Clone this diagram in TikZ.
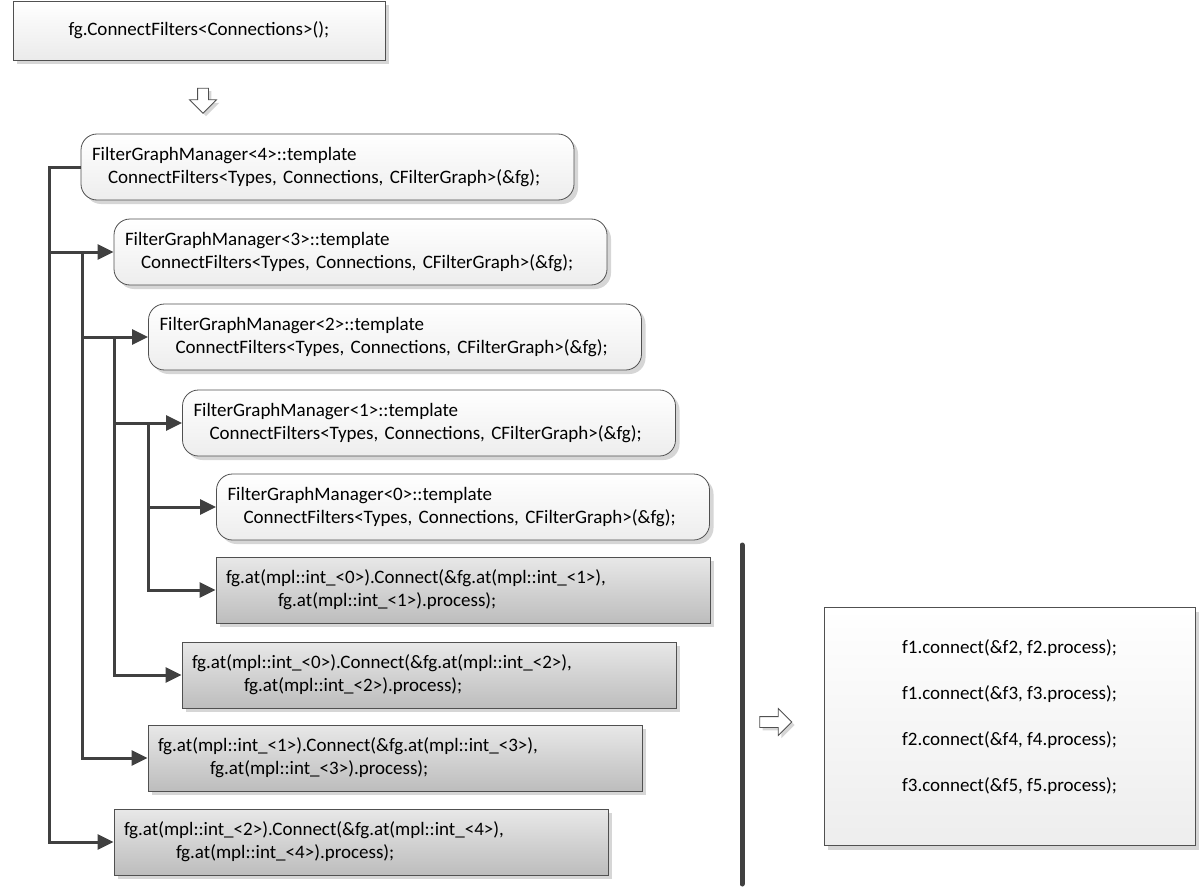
\documentclass[tikz,border=0pt]{standalone}
\usepackage{fontspec}
\setmainfont{Carlito}
\usetikzlibrary{arrows.meta,shapes.arrows,shadows}
\definecolor{linegray}{HTML}{404040}
\definecolor{framegray}{HTML}{505050}

\tikzset{
  shade box/.style={draw=framegray,line width=0.8pt,
    drop shadow={shadow xshift=4pt,shadow yshift=-4pt,fill=black!16,opacity=1}},
  callbox/.style={shade box,top color=white,bottom color=black!8,
    minimum width=372pt,minimum height=59pt},
  mgrbox/.style={shade box,rounded corners=16pt,top color=white,bottom color=black!7,
    text width=471pt,inner xsep=11pt,minimum height=66pt,align=left},
  conbox/.style={shade box,top color=black!9,bottom color=black!26,
    text width=474pt,inner xsep=10pt,minimum height=66pt,align=left},
  flatbox/.style={shade box,top color=white,bottom color=black!7,
    minimum width=371pt,minimum height=238pt,align=center},
  hollow/.style={shape=single arrow,draw=framegray,fill=white,line width=0.8pt,
    inner sep=5pt,minimum width=26pt,single arrow head extend=8pt,
    drop shadow={shadow xshift=3pt,shadow yshift=-3pt,fill=black!16,opacity=1}},
  link/.style={draw=linegray,line width=3pt,-{Triangle[length=16pt,width=15pt]}}
}

\begin{document}
\begin{tikzpicture}[x=1pt,y=-1pt,every node/.style={font=\fontsize{19}{23}\selectfont}]
\useasboundingbox (0,0) rectangle (1200,891);

\node[callbox] (call) at (199,30.5) {fg.ConnectFilters<Connections>();};
\node[hollow,minimum height=25pt,shape border rotate=270] (down) at (203,98) {};

\foreach \i/\x/\y in {4/327.5/167,3/360.5/252,2/395/337,1/429/423,0/463/507}
  \node[mgrbox] (m\i) at (\x,\y)
    {FilterGraphManager<\i>::template\\\hspace*{16pt}ConnectFilters<Types, Connections, CFilterGraph>(\&fg);};

\node[conbox] (c01) at (463,590)
  {fg.at(mpl::int\_<0>).Connect(\&fg.at(mpl::int\_<1>),\\\hspace*{52pt}fg.at(mpl::int\_<1>).process);};
\node[conbox] (c02) at (429,675)
  {fg.at(mpl::int\_<0>).Connect(\&fg.at(mpl::int\_<2>),\\\hspace*{52pt}fg.at(mpl::int\_<2>).process);};
\node[conbox] (c13) at (395,758)
  {fg.at(mpl::int\_<1>).Connect(\&fg.at(mpl::int\_<3>),\\\hspace*{52pt}fg.at(mpl::int\_<3>).process);};
\node[conbox] (c24) at (361,842)
  {fg.at(mpl::int\_<2>).Connect(\&fg.at(mpl::int\_<4>),\\\hspace*{52pt}fg.at(mpl::int\_<4>).process);};

\coordinate (bus4) at (49,0);
\coordinate (bus3) at (82,0);
\coordinate (bus2) at (114,0);
\coordinate (bus1) at (148,0);

\draw[link] (m4.west) -- (m4.west -| bus4) |- (c24.west);
\draw[link] (m3.west -| bus4) -- (m3.west);
\draw[link] (m3.west -| bus3) |- (c13.west);
\draw[link] (m2.west -| bus3) -- (m2.west);
\draw[link] (m2.west -| bus2) |- (c02.west);
\draw[link] (m1.west -| bus2) -- (m1.west);
\draw[link] (m1.west -| bus1) |- (c01.west);
\draw[link] (m0.west -| bus1) -- (m0.west);

\draw[draw=linegray,line width=5pt,line cap=round] (742,545) -- (742,884);
\node[hollow,minimum height=32pt] (right) at (773,722) {};

\node[flatbox] (flat) at (1009.5,726.5)
  {f1.connect(\&f2, f2.process);\\[23pt]f1.connect(\&f3, f3.process);\\[23pt]
   f2.connect(\&f4, f4.process);\\[23pt]f3.connect(\&f5, f5.process);\\[-1pt]};
\end{tikzpicture}
\end{document}
